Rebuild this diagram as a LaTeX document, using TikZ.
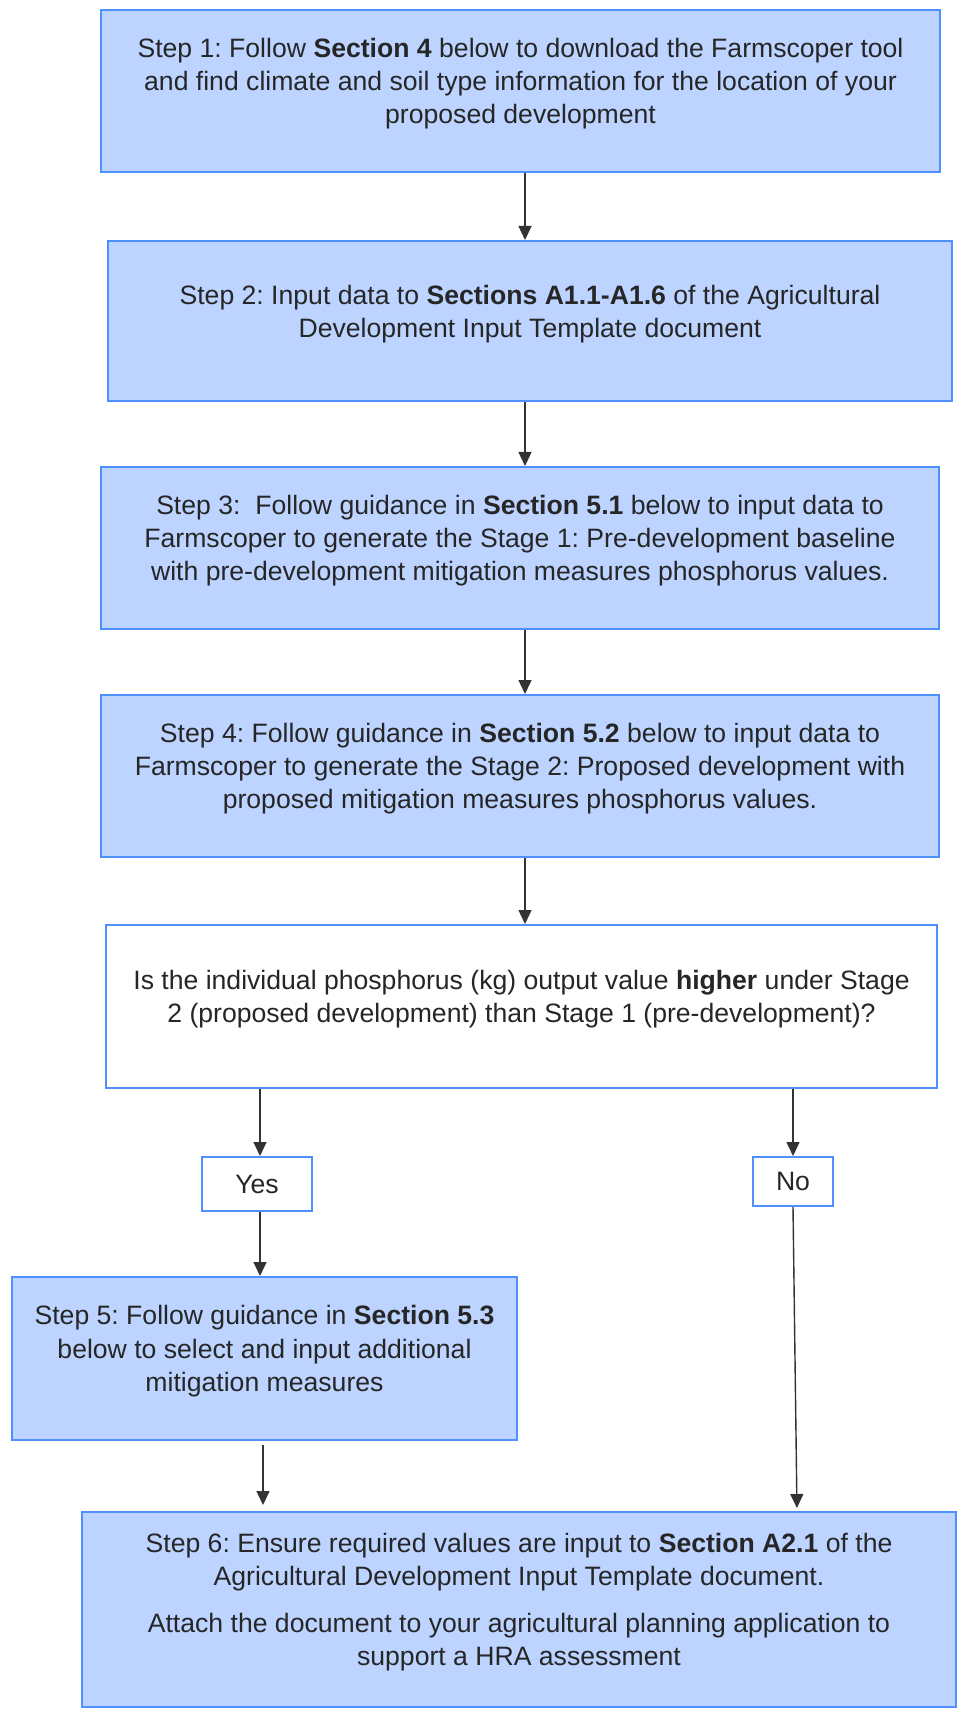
\documentclass[tikz,border=0pt]{standalone}
\usepackage{fontspec}
\setmainfont{Liberation Sans}
\usepackage{xcolor}
\usepackage{tikz}
\usetikzlibrary{arrows.meta, positioning, calc}
\frenchspacing

\definecolor{stepfill}{RGB}{188,212,255}
\definecolor{stepline}{RGB}{77,144,254}
\definecolor{flowgray}{RGB}{51,51,51}

% pushes the text a little above the middle of a box
\newcommand{\lowstrut}{\rule[-10pt]{0pt}{10pt}}

\tikzset{
  stepbox/.style={
    draw=stepline, line width=1pt, fill=stepfill, align=center,
    font=\fontsize{13.3}{16.6}\selectfont, text=black!85, inner sep=0pt
  },
  askbox/.style={
    stepbox, fill=white
  },
  answerbox/.style={
    draw=stepline, line width=1pt, fill=white, align=center,
    font=\fontsize{13.3}{16.6}\selectfont, text=black!85, inner sep=0pt
  },
  flowarrow/.style={
    -{Triangle[length=7pt, width=6.5pt]}, line width=0.7pt, color=flowgray
  },
}

\begin{document}
\begin{tikzpicture}[x=0.5pt, y=-0.5pt]
  \useasboundingbox[fill=white] (0,0) rectangle (960,1711);

  % === Step 1 ===
  \node[stepbox, minimum width=419.5pt, minimum height=81pt] (stepa) at (520.5,91)
    {Step 1: Follow \textbf{Section 4} below to download the Farmscoper tool\\
    and find climate and soil type information for the location of your\\
    proposed development\lowstrut};

  % === Step 2 ===
  \node[stepbox, minimum width=422pt, minimum height=80pt] (stepb) at (530,321)
    {Step 2: Input data to \textbf{Sections A1.1-A1.6} of the Agricultural\\
    Development Input Template document\lowstrut};

  % === Step 3 ===
  \node[stepbox, minimum width=419pt, minimum height=81pt] (stepc) at (520,548)
    {Step 3:\ \ Follow guidance in \textbf{Section 5.1} below to input data to\\
    Farmscoper to generate the Stage 1: Pre-development baseline\\
    with pre-development mitigation measures phosphorus values.\lowstrut};

  % === Step 4 ===
  \node[stepbox, minimum width=419pt, minimum height=81pt] (stepd) at (520,776)
    {Step 4: Follow guidance in \textbf{Section 5.2} below to input data to\\
    Farmscoper to generate the Stage 2: Proposed development with\\
    proposed mitigation measures phosphorus values.\lowstrut};

  % === Question ===
  \node[askbox, minimum width=415.5pt, minimum height=81.5pt] (ask) at (521.5,1006.5)
    {Is the individual phosphorus (kg) output value \textbf{higher} under Stage\\
    2 (proposed development) than Stage 1 (pre-development)?\lowstrut};

  \node[answerbox, minimum width=55pt, minimum height=27pt] (yes) at (257,1184) {Yes};
  \node[answerbox, minimum width=40pt, minimum height=24.5pt] (no) at (793,1181.5) {No};

  % === Step 5 ===
  \node[stepbox, minimum width=252.5pt, minimum height=81.5pt] (stepe) at (264.5,1358.5)
    {Step 5: Follow guidance in \textbf{Section 5.3}\\
    below to select and input additional\\
    mitigation measures\lowstrut};

  % === Step 6 ===
  \node[stepbox, minimum width=437pt, minimum height=97.5pt] (stepf) at (519,1609.5)
    {Step 6: Ensure required values are input to \textbf{Section A2.1} of the\\
    Agricultural Development Input Template document.\\[7pt]
    Attach the document to your agricultural planning application to\\
    support a HRA assessment\lowstrut};

  % === Arrows ===
  \coordinate (spine) at (525,0);
  \draw[flowarrow] (stepa.south -| spine) -- (stepb.north -| spine);
  \draw[flowarrow] (stepb.south -| spine) -- (stepc.north -| spine);
  \draw[flowarrow] (stepc.south -| spine) -- (stepd.north -| spine);
  \draw[flowarrow] (stepd.south -| spine) -- (ask.north -| spine);
  \draw[flowarrow] ([xshift=1.5pt]ask.south -| yes.north) -- ([xshift=1.5pt]yes.north);
  \draw[flowarrow] (ask.south -| no.north) -- (no.north);
  \draw[flowarrow] ([xshift=1.5pt]yes.south) -- ([xshift=1.5pt]yes.south |- stepe.north);
  \draw[flowarrow, shorten <=2pt, shorten >=3pt] (stepe.south -| 263,0) -- (stepf.north -| 263,0);
  \draw[flowarrow, shorten >=1.5pt] (no.south) -- ([xshift=2pt]stepf.north -| no.south);

\end{tikzpicture}
\end{document}
